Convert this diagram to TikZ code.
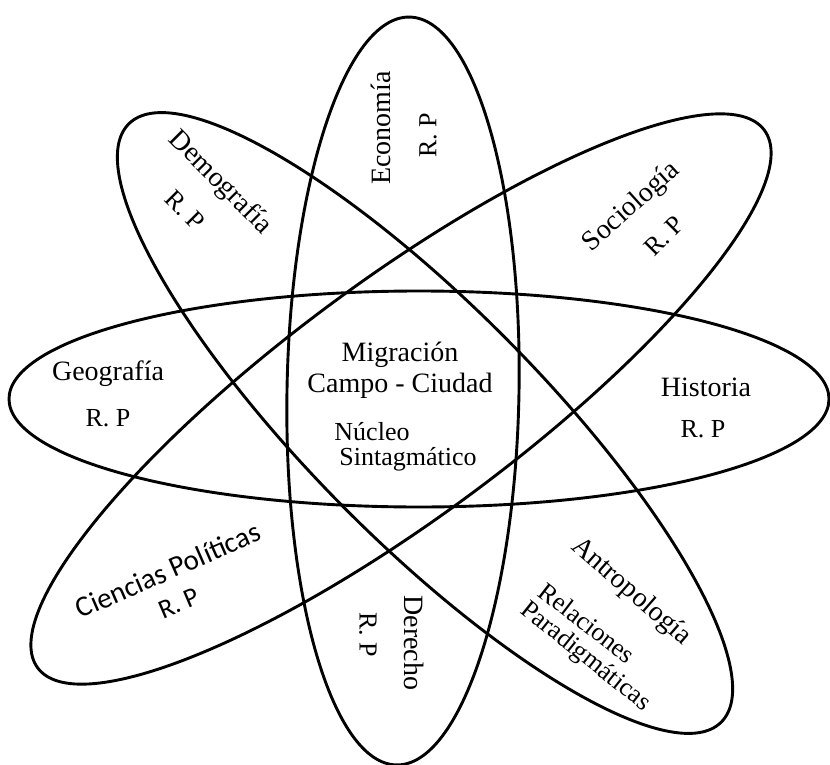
\documentclass[tikz,border=0pt]{standalone}
\usepackage{fontspec}
\setmainfont{Liberation Serif}
\newfontfamily\calib{Carlito}
\newfontfamily\timesf{Liberation Serif}
\begin{document}
\begin{tikzpicture}[x=0.5pt,y=-0.5pt,
  ring/.style={line width=1.45pt},
  lab/.style={font=\timesf\fontsize{14}{16}\selectfont, inner sep=0pt},
  smalllab/.style={font=\timesf\fontsize{13}{15}\selectfont, inner sep=0pt},
  cal/.style={font=\calib\fontsize{14.5}{16}\selectfont, inner sep=0pt},
  calsmall/.style={font=\calib\fontsize{13.5}{15}\selectfont, inner sep=0pt}]
\useasboundingbox (0,0) rectangle (830,765);
\fill[white] (0,0) rectangle (830,765);
% ellipses
\draw[ring] (419,399) ellipse [x radius=410, y radius=108];
\draw[ring, rotate around={-1:(403,391)}] (403,391) ellipse [x radius=116, y radius=374];
\draw[ring, rotate around={-45.3:(425,423)}] (425,423) ellipse [x radius=421, y radius=117];
\draw[ring, rotate around={36.5:(401,399)}] (401,399) ellipse [x radius=452, y radius=118];
% labels
\node[lab] (geo) at (108,374) {Geografía};
\node[smalllab] (georp) at (108,418) {R. P};
\node[lab] (his) at (706,387) {Historia};
\node[smalllab] (hisrp) at (703,429) {R. P};
\node[lab] (mig) at (400,355) {Migración};
\node[lab] (cc) at (400,386) {Campo - Ciudad};
\node[smalllab] (nuc) at (372,432) {Núcleo};
\node[smalllab] (sin) at (408,459) {Sintagmático};
\node[lab, rotate=-45] (dem) at (220,183) {Demografía};
\node[smalllab, rotate=-45] (demrp) at (185,210) {R. P};
\node[lab, rotate=90] (eco) at (381,128) {Economía};
\node[smalllab, rotate=90] (ecorp) at (428,135) {R. P};
\node[lab, rotate=42] (soc) at (632,207) {Sociología};
\node[smalllab, rotate=45] (socrp) at (664,236) {R. P};
\node[cal, rotate=23.6] (cp) at (168,570) {Ciencias Políticas};
\node[calsmall, rotate=23] (cprp) at (179,603) {R. P};
\node[lab, rotate=-90] (der) at (414,643) {Derecho};
\node[smalllab, rotate=-90] (derrp) at (368,635) {R. P};
\node[lab, rotate=-41] (ant) at (631,592) {Antropología};
\node[smalllab, rotate=-37.6] (rel) at (587,623) {Relaciones};
\node[smalllab, rotate=-38.7] (par) at (585,657) {Paradigmáticas};
\end{tikzpicture}
\end{document}
